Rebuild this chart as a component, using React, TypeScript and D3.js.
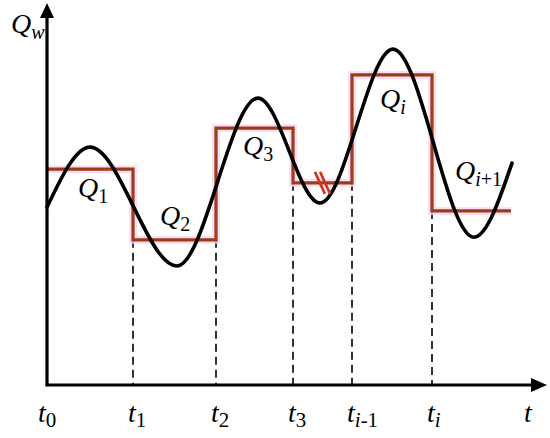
import React from "react";
import * as d3 from "d3";

const W = 550;
const H = 438;

// boundaries of the time intervals (data units)
const tickNames = ["0", "1", "2", "3", "i-1", "i"];
const tickTimes = [0, 1.72, 3.38, 4.92, 6.1, 7.7];
const stepEndTime = 9.28;
// piecewise-constant flow levels for each interval
const stepLevels = [5.68, 3.82, 6.76, 5.32, 8.16, 4.58];
// continuous flow curve (extrema)
const curveTimes = [0, 0.86, 2.6, 4.22, 5.46, 6.92, 8.54, 9.3];
const curveValues = [4.68, 6.26, 3.13, 7.55, 4.79, 8.84, 3.89, 5.84];
// step labels
const qLabelSubs = ["1", "2", "3", "i", "i+1"];
const qLabelTimes = [0.62, 2.26, 3.92, 6.66, 8.16];
const qLabelValues = [4.95, 4.21, 6.05, 7.3, 5.4];

const x = d3.scaleLinear().domain([0, 10]).range([47, 547]);
const y = d3.scaleLinear().domain([0, 10]).range([385, 5]);

const serif = "'Liberation Serif'";

function Sub({ s }: { s: string }) {
  const parts = s.split(/(i)/).filter((p) => p !== "");
  return (
    <>
      {parts.map((p, k) => (
        <tspan key={k} fontStyle={p === "i" ? "italic" : "normal"}>
          {p}
        </tspan>
      ))}
    </>
  );
}

export default function App() {
  const stepPts: [number, number][] = [];
  stepLevels.forEach((lv, i) => {
    const t0 = tickTimes[i];
    const t1 = i + 1 < tickTimes.length ? tickTimes[i + 1] : stepEndTime;
    stepPts.push([x(t0), y(lv)]);
    stepPts.push([x(t1), y(lv)]);
  });
  const stepPath = d3.line()(stepPts) || "";
  const curvePath =
    d3
      .line<number>()
      .x((_, i) => x(curveTimes[i]))
      .y((v) => y(v))
      .curve(d3.curveMonotoneX)(curveValues) || "";

  const x0 = x(0);
  const y0 = y(0);
  const stepColor = "#9a3c1a";

  const bx = x((tickTimes[3] + tickTimes[4]) / 2);
  const by = y(stepLevels[3]);

  return (
    <svg width={W} height={H} style={{ position: "absolute", left: 0, top: 0, background: "#fff" }}>
      {tickTimes.slice(1).map((t, i) => {
        const lvl = Math.max(y(stepLevels[i]), y(stepLevels[i + 1]));
        return (
          <line
            key={i}
            x1={x(t)}
            x2={x(t)}
            y1={lvl}
            y2={y0}
            stroke="#000"
            strokeWidth={1.6}
            strokeDasharray="8,5"
          />
        );
      })}
      <path d={stepPath} fill="none" stroke="#fcd6ef" strokeWidth={8} strokeLinejoin="miter" opacity={0.8} />
      <path d={stepPath} fill="none" stroke={stepColor} strokeWidth={3.2} strokeLinejoin="miter" />
      <path d={curvePath} fill="none" stroke="#000" strokeWidth={3.6} strokeLinecap="round" />
      {[-2.6, 2.6].map((o, i) => (
        <line
          key={i}
          x1={bx + o - 5}
          y1={by - 11}
          x2={bx + o + 5}
          y2={by + 11}
          stroke="#d5301c"
          strokeWidth={2.6}
        />
      ))}
      <line x1={x0} y1={y0} x2={x0} y2={16} stroke="#000" strokeWidth={3.2} />
      <line x1={x0 - 1.6} y1={y0} x2={534} y2={y0} stroke="#000" strokeWidth={3.2} />
      <path d={`M${x0},3 L${x0 - 7},18 L${x0 + 7},18 Z`} fill="#000" />
      <path d={`M547,${y0} L531,${y0 - 7} L531,${y0 + 7} Z`} fill="#000" />
      <text x={11} y={33} fontSize={28} fontFamily={serif} fontStyle="italic">
        Q
        <tspan fontSize={20} dy={6}>w</tspan>
      </text>
      <text x={524} y={422} fontSize={28} fontFamily={serif} fontStyle="italic">t</text>
      {tickTimes.map((t, i) => (
        <text
          key={i}
          x={x(t) - (i === 0 ? 9 : 5)}
          y={422}
          fontSize={28}
          fontFamily={serif}
          fontStyle="italic"
        >
          t
          <tspan fontSize={21} dy={5} fontStyle="normal">
            <Sub s={tickNames[i]} />
          </tspan>
        </text>
      ))}
      {qLabelSubs.map((s, i) => (
        <text
          key={i}
          x={x(qLabelTimes[i])}
          y={y(qLabelValues[i])}
          fontSize={28}
          fontFamily={serif}
          fontStyle="italic"
        >
          Q
          <tspan fontSize={20} dy={6} fontStyle="normal">
            <Sub s={s} />
          </tspan>
        </text>
      ))}
    </svg>
  );
}
